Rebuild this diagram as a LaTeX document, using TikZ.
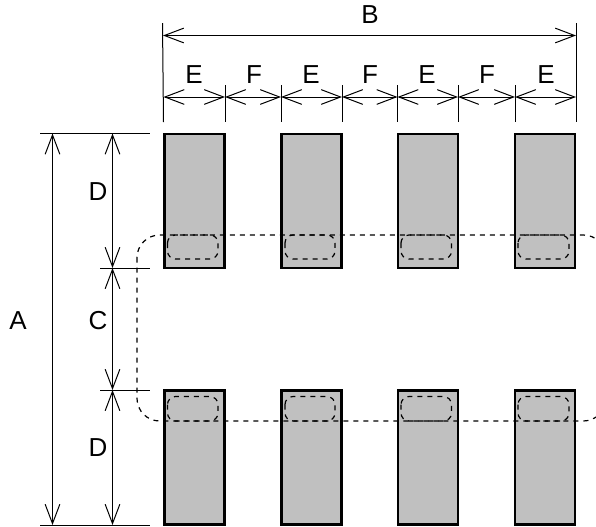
\documentclass[tikz,border=0pt]{standalone}
\usepackage{fontspec}
\setmainfont{Liberation Sans}
\usetikzlibrary{arrows.meta}
\definecolor{padgray}{HTML}{C0C0C0}
\tikzset{
  dimline/.style={line width=0.75pt,{Straight Barb[length=14.5pt,width=11pt]}-{Straight Barb[length=14.5pt,width=11pt]}},
  extline/.style={line width=0.75pt},
  lead/.style={fill=padgray,draw=black,line width=2.2pt},
  outline/.style={line width=0.9pt,dash pattern=on 3.75pt off 3.75pt,rounded corners=17pt},
  land/.style={line width=0.9pt,dash pattern=on 3.75pt off 3.75pt,rounded corners=6pt},
  dimlabel/.style={inner sep=0pt,font=\fontsize{19.5}{21}\selectfont}
}
\begin{document}
\begin{tikzpicture}[line cap=butt,line join=miter,x=0.75pt,y=-0.75pt]
\useasboundingbox (0,0) rectangle (596,526);
\clip (0,0) rectangle (596,526);
% top row
\draw [lead] (164.5,134) rectangle (224.5,268);
\draw [lead] (281.5,134) rectangle (341.5,268);
\draw [lead] (398,134) rectangle (458,268);
\draw [lead] (515,134) rectangle (575,268);
% bottom row
\draw [lead] (164.5,390.5) rectangle (224.5,524.5);
\draw [lead] (281.5,390.5) rectangle (341.5,524.5);
\draw [lead] (398,390.5) rectangle (458,524.5);
\draw [lead] (515,390.5) rectangle (575,524.5);
% dashed outlines
\draw [outline] (137,235) rectangle (606,421);
\draw [land] (167.5,235) rectangle (218,259);
\draw [land] (285,235) rectangle (335,259);
\draw [land] (401,235) rectangle (451.5,259);
\draw [land] (518,235) rectangle (569,259);
\draw [land] (167.5,396.5) rectangle (218,421);
\draw [land] (285,396.5) rectangle (335,421);
\draw [land] (401,396.5) rectangle (451.5,421);
\draw [land] (518,396.5) rectangle (569,421);
% top dimensions
\coordinate (b1) at (163,35.5);
\coordinate (b2) at (576,35.5);
\coordinate (t1) at (163.5,97);
\coordinate (t2) at (225,97);
\coordinate (t3) at (281,97);
\coordinate (t4) at (342,97);
\coordinate (t5) at (397.5,97);
\coordinate (t6) at (458,97);
\coordinate (t7) at (515,97);
\coordinate (t8) at (576,97);
\draw [dimline] (b1) -- (b2);
\draw [dimline] (t1) -- (t2);
\draw [dimline] (t2) -- (t3);
\draw [dimline] (t3) -- (t4);
\draw [dimline] (t4) -- (t5);
\draw [dimline] (t5) -- (t6);
\draw [dimline] (t6) -- (t7);
\draw [dimline] (t7) -- (t8);
\draw [extline] (162.5,23) -- (163.5,122);
\draw [extline] (576,23) -- (576,122);
\draw [extline] (225,85) -- (225,122);
\draw [extline] (281,85) -- (281,122);
\draw [extline] (342,85) -- (342,122);
\draw [extline] (397.5,85) -- (397.5,122);
\draw [extline] (458,85) -- (458,122);
\draw [extline] (515,85) -- (515,122);
% left dimensions
\coordinate (a1) at (52.5,133.5);
\coordinate (a2) at (52.5,525);
\coordinate (d1) at (112.5,133.5);
\coordinate (d2) at (112.5,268);
\coordinate (d3) at (112.5,390);
\coordinate (d4) at (112.5,525);
\draw [dimline] (a1) -- (a2);
\draw [dimline] (d1) -- (d2);
\draw [dimline] (d2) -- (d3);
\draw [dimline] (d3) -- (d4);
\draw [extline] (40,133.5) -- (150,133.5);
\draw [extline] (100,268) -- (150,268);
\draw [extline] (100,390) -- (150,390);
\draw [extline] (40,525) -- (150,525);
% labels
\node [dimlabel] (labB) at (370,14.5) {B};
\node [dimlabel] (labE1) at (194,75) {E};
\node [dimlabel] (labF1) at (254,75) {F};
\node [dimlabel] (labE2) at (311,75) {E};
\node [dimlabel] (labF2) at (370,75) {F};
\node [dimlabel] (labE3) at (427,75) {E};
\node [dimlabel] (labF3) at (487,75) {F};
\node [dimlabel] (labE4) at (546,75) {E};
\node [dimlabel] (labD1) at (98,192) {D};
\node [dimlabel] (labC) at (98,321) {C};
\node [dimlabel] (labA) at (18,321) {A};
\node [dimlabel] (labD2) at (98,448) {D};
\end{tikzpicture}
\end{document}
